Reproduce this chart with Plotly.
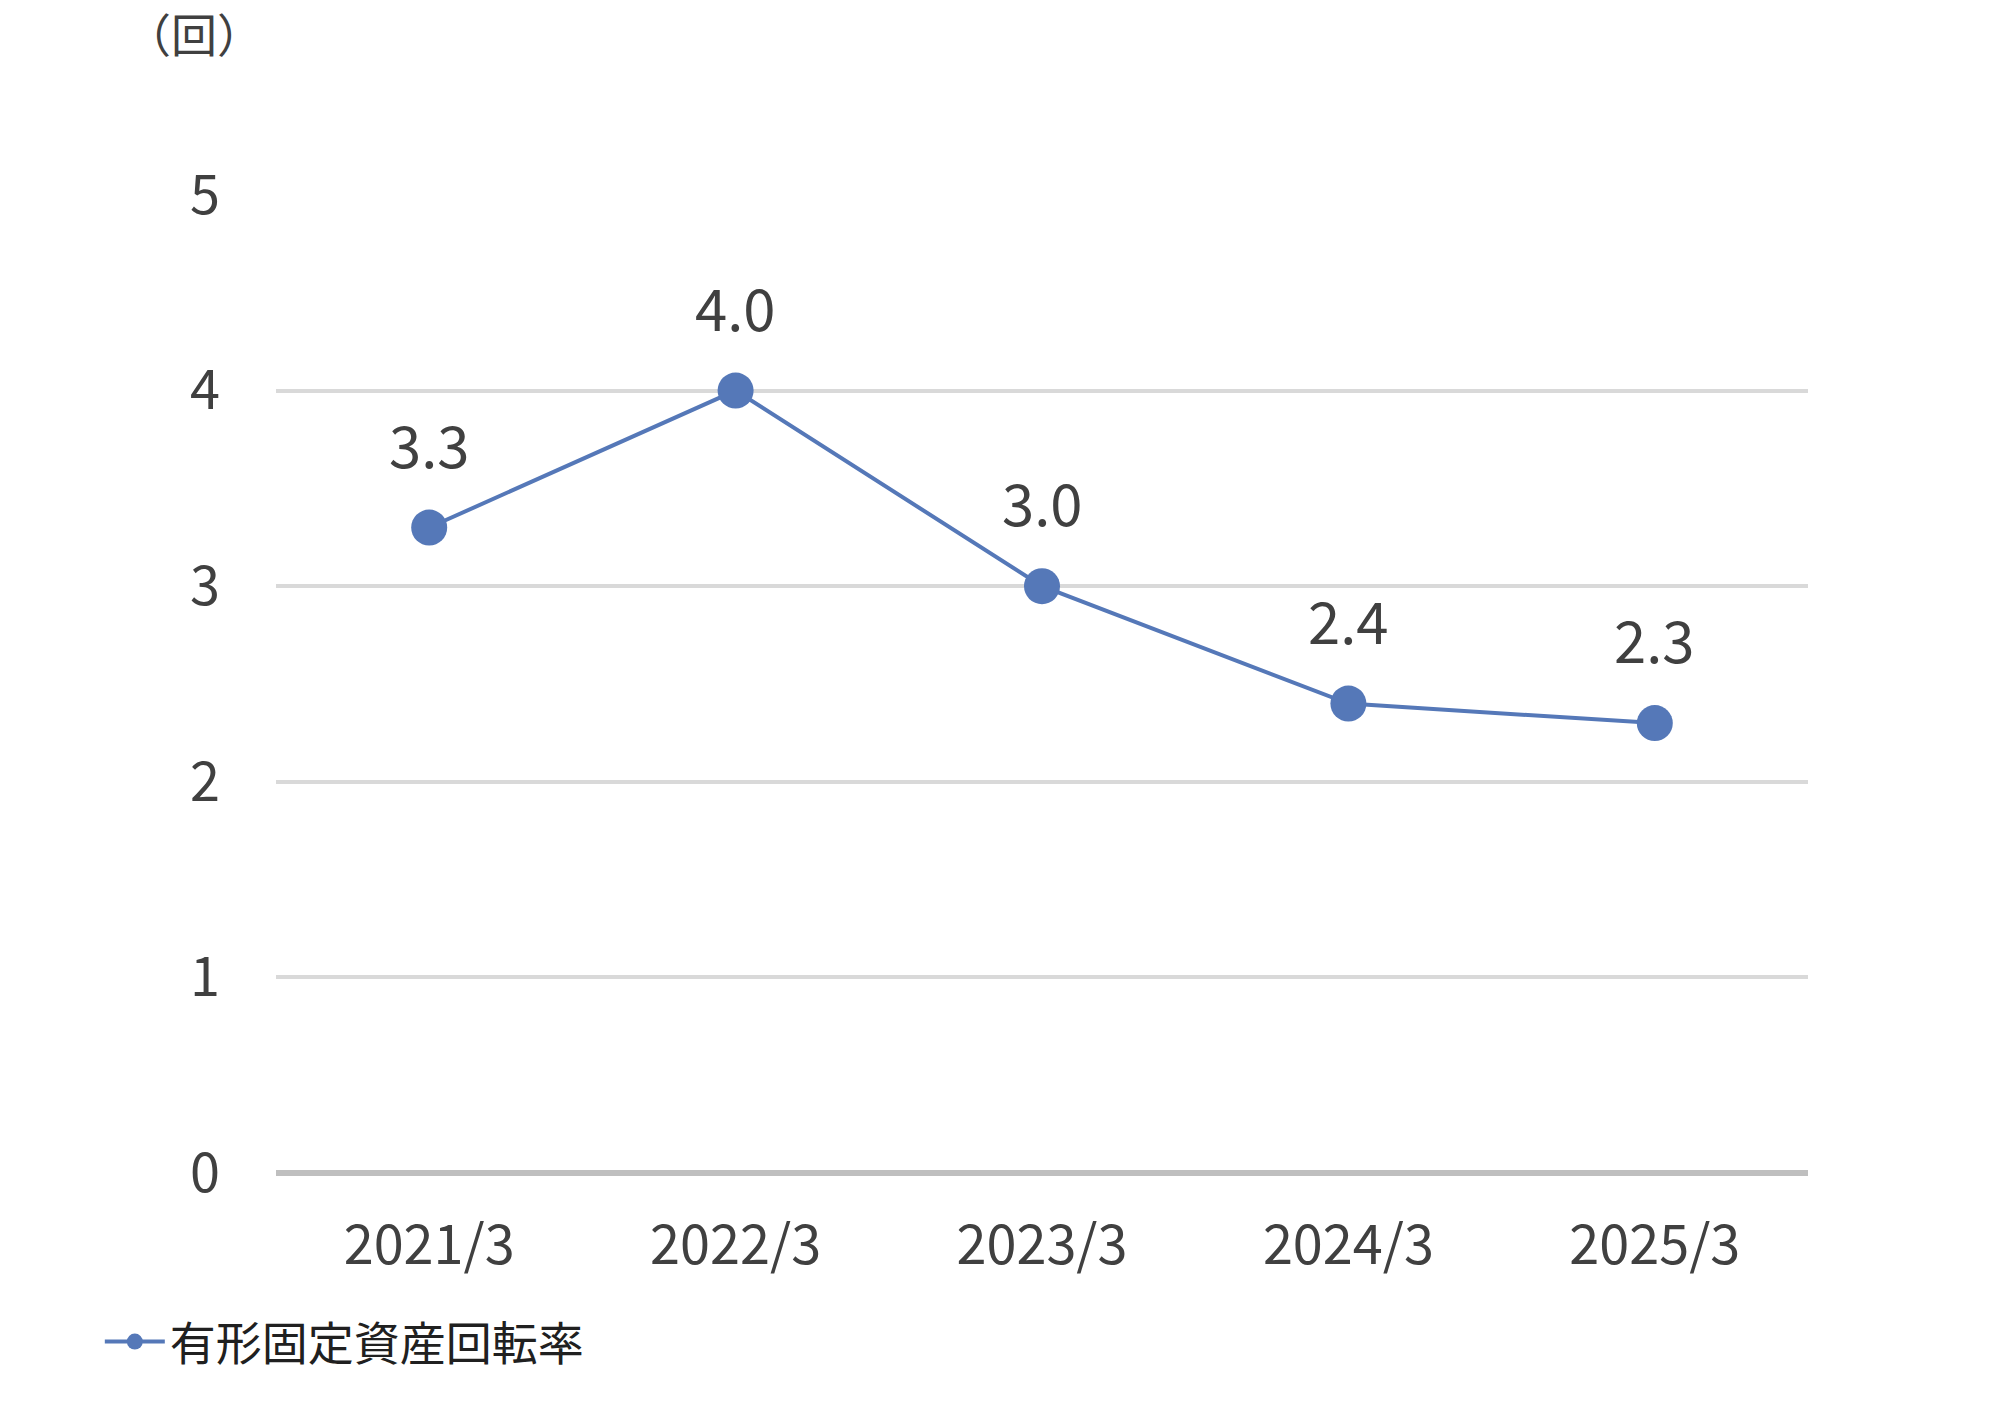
import plotly.graph_objects as go

categories = ["2021/3", "2022/3", "2023/3", "2024/3", "2025/3"]
values = [3.3, 4.0, 3.0, 2.4, 2.3]
labels = ["3.3", "4.0", "3.0", "2.4", "2.3"]
series_name = "有形固定資産回転率"
unit = "（回）"

font = "Noto Sans CJK JP"
fig = go.Figure(go.Scatter(
    x=categories, y=values, mode="lines+markers", name=series_name,
    line=dict(color="#5578B8", width=4),
    marker=dict(size=36, color="#5578B8"),
    cliponaxis=False,
))
annots = [dict(x=c, y=v, text=t, showarrow=False, yshift=85, xref="x", yref="y",
               font=dict(size=58, color="#404040", family=font))
          for c, v, t in zip(categories, values, labels)]
annots.append(dict(text=unit, xref="paper", yref="paper", x=-0.1, y=1.13,
                   xanchor="left", yanchor="bottom", showarrow=False,
                   font=dict(size=46, color="#404040")))
fig.update_layout(
    width=2000, height=1405, plot_bgcolor="white", paper_bgcolor="white",
    margin=dict(l=268, r=200, t=186, b=240),
    font=dict(family=font, color="#404040"),
    showlegend=True,
    legend=dict(orientation="h", x=-0.115, y=-0.135, xanchor="left", yanchor="top",
                font=dict(size=46, color="#202020"), itemwidth=60),
    xaxis=dict(showgrid=False, tickfont=dict(size=54), ticks="outside", ticklen=25,
               tickcolor="rgba(0,0,0,0)", showline=False, range=[-0.5, 4.5]),
    yaxis=dict(range=[0, 5.005], dtick=1, showgrid=True, gridcolor="#D9D9D9", gridwidth=4,
               tickfont=dict(size=54), zeroline=True, zerolinecolor="#BFBFBF",
               zerolinewidth=6, ticklabelstandoff=55),
    annotations=annots,
)
fig.write_html("out.html")
